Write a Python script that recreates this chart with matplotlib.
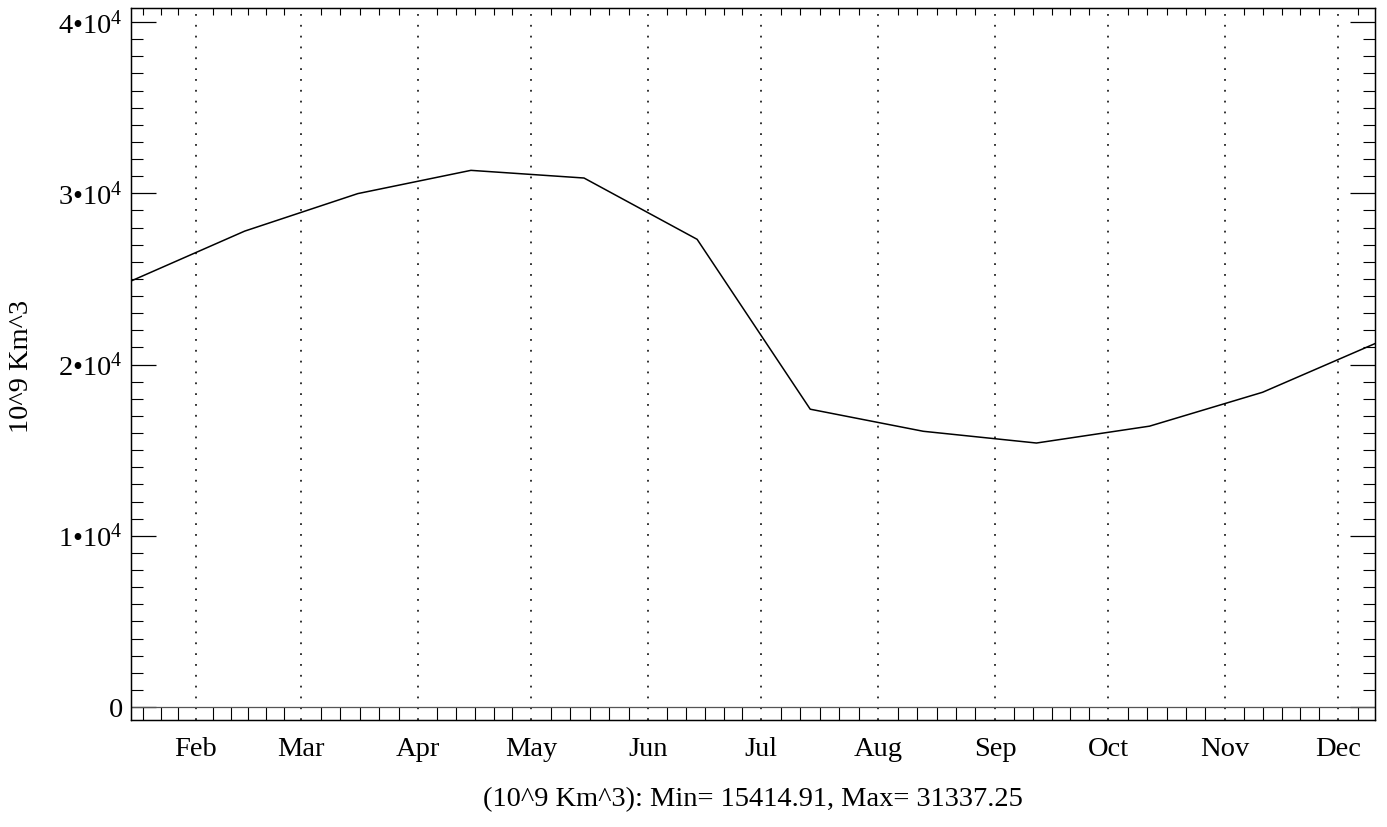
import matplotlib
matplotlib.use("Agg")
import matplotlib.pyplot as plt
from matplotlib.ticker import FixedLocator, MultipleLocator

plt.rcParams['font.family'] = ['Liberation Serif', 'DejaVu Serif']
plt.rcParams['mathtext.fontset'] = 'custom'
plt.rcParams['mathtext.rm'] = 'Liberation Serif'
plt.rcParams['mathtext.it'] = 'Liberation Serif'

# monthly values (10^9 km^3), plotted at 30-day steps through the year
days = [14, 44, 74, 104, 134, 164, 194, 224, 254, 284, 314, 344]
volume = [24890, 27790, 29980, 31337.25, 30890, 27310, 17390, 16100,
          15414.91, 16400, 18380, 21240]

month_names = ["Feb", "Mar", "Apr", "May", "Jun", "Jul", "Aug", "Sep",
               "Oct", "Nov", "Dec"]
month_start = [0, 31, 59, 90, 120, 151, 181, 212, 243, 273, 304, 334, 365]

y_ticks = [0, 10000, 20000, 30000, 40000]
y_labels = ["0", "1•10$^{4}$", "2•10$^{4}$", "3•10$^{4}$", "4•10$^{4}$"]

FS = 20.5

# minor ticks: 6 divisions per month (leading partial month uses Feb spacing)
minor = []
for i in range(len(month_start) - 1):
    a, b = month_start[i], month_start[i + 1]
    step = (b - a) / 6.0
    if i == 0:
        step = (month_start[2] - month_start[1]) / 6.0
        minor += [b - k * step for k in range(1, 6)]
    else:
        minor += [a + k * step for k in range(1, 6)]

fig = plt.figure(figsize=(13.87, 8.27), dpi=100)
ax = fig.add_axes([131 / 1387, 1 - 720 / 827, 1244 / 1387, 712 / 827])

ax.plot(days, volume, color='black', lw=1.1, zorder=3)
ax.axhline(0, color='#555555', lw=0.9, zorder=2)

ax.set_xlim(days[0] - 0.16, days[-1] - 0.2)
ax.set_ylim(-759, 40818)

# x axis: month starts as dotted grid, labels centred on them
ax.set_xticks(month_start[1:12])
ax.set_xticklabels(month_names)
ax.xaxis.set_minor_locator(FixedLocator(minor))
ax.tick_params(axis='x', which='major', length=0, pad=12, labelsize=FS)
ax.tick_params(axis='x', which='minor', direction='in', length=9.4,
               width=0.8, top=False, bottom=True)
ax.grid(axis='x', which='major', color='#222222', lw=1.3,
        linestyle=(0, (1.0, 5.0)))

# y axis
ax.set_yticks(y_ticks)
ax.set_yticklabels(y_labels)
ax.yaxis.set_minor_locator(MultipleLocator(1000))
ax.tick_params(axis='y', which='major', direction='in', length=18,
               width=0.9, left=True, right=True, labelsize=FS, pad=6)
ax.tick_params(axis='y', which='minor', direction='in', length=8.9,
               width=0.8, left=True, right=True)

# top minor ticks (shorter)
top = ax.twiny()
top.set_xlim(ax.get_xlim())
top.set_xticks([])
top.xaxis.set_minor_locator(FixedLocator(minor))
top.tick_params(axis='x', which='minor', direction='in', length=5,
                width=0.8, top=True, bottom=False)

for s in ax.spines.values():
    s.set_linewidth(1.0)

fig.text(22 / 1387, 1 - 366 / 827, "10^9 Km^3", rotation=90,
         ha='center', va='center', fontsize=FS)
fig.text(753 / 1387, 1 - 800 / 827,
         "(10^9 Km^3): Min= 15414.91, Max= 31337.25",
         ha='center', va='center', fontsize=FS)

fig.savefig("out.png", dpi=100)
